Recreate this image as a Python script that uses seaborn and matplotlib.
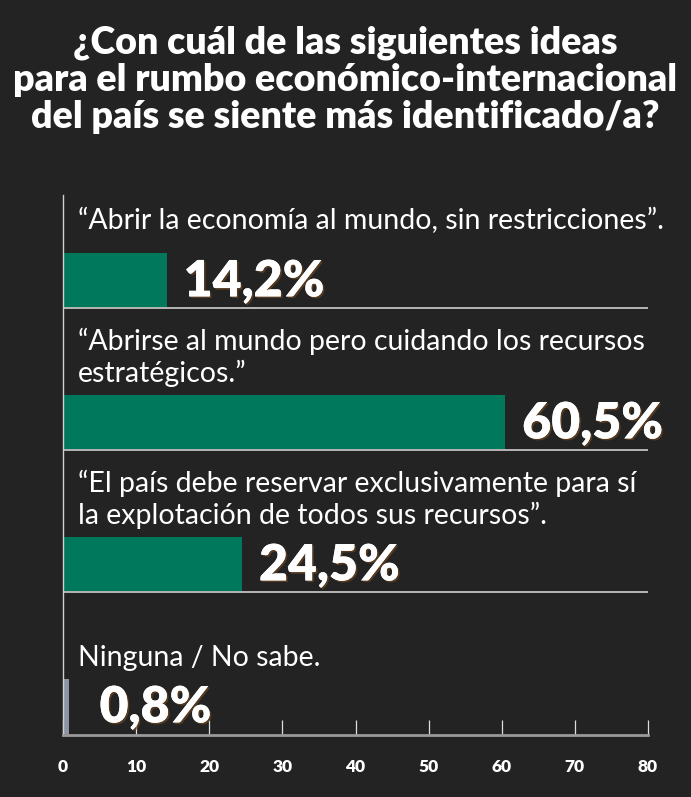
import matplotlib
matplotlib.use("Agg")
import matplotlib.pyplot as plt
import seaborn as sns
import pandas as pd
from matplotlib import patheffects as pe

# ---- data ----
categories = [
    "“Abrir la economía al mundo, sin restricciones”.",
    "“Abrirse al mundo pero cuidando los recursos\nestratégicos.”",
    "“El país debe reservar exclusivamente para sí\nla explotación de todos sus recursos”.",
    "Ninguna / No sabe.",
]
values = [14.2, 60.5, 24.5, 0.8]
value_labels = ["14,2%", "60,5%", "24,5%", "0,8%"]
bar_colors = ["#00785B", "#00785B", "#00785B", "#8C95A6"]
xticks = [0, 10, 20, 30, 40, 50, 60, 70, 80]
title = ("¿Con cuál de las siguientes ideas\n"
         "para el rumbo económico-internacional\n"
         "del país se siente más identificado/a?")

# ---- style ----
BG = "#232323"
sns.set_theme(style="dark")
plt.rcParams["font.family"] = ["Lato", "DejaVu Sans"]

W, H = 691, 797
fig = plt.figure(figsize=(W / 100, H / 100), dpi=100, facecolor=BG)
ax = fig.add_axes([63 / W, 1 - 735 / H, (648 - 63) / W, (735 - 195) / H])
ax.set_facecolor(BG)

df = pd.DataFrame({"cat": categories, "val": values})
BAR_H = 0.387
sns.barplot(data=df, x="val", y="cat", hue="cat", palette=bar_colors,
            orient="h", width=BAR_H, legend=False, ax=ax, saturation=1,
            linewidth=0, edgecolor="none")

PX = 1 / 142.0  # data units per pixel vertically
ax.set_ylim(3.2007, -0.602)
ax.set_xlim(0, 80)
ax.set_xticks(xticks)
ax.set_xticklabels([str(t) for t in xticks], color="white",
                   fontsize=12.5, fontweight="heavy")
ax.set_yticks([])
ax.set_xlabel("")
ax.set_ylabel("")
ax.grid(False)

for s in ["top", "right"]:
    ax.spines[s].set_visible(False)
ax.spines["left"].set_color("#cfcfcf")
ax.spines["left"].set_linewidth(1.0)
ax.spines["bottom"].set_color("#9a9a9a")
ax.spines["bottom"].set_linewidth(2.0)
ax.tick_params(axis="x", direction="in", length=11, width=0.9,
               color="#dddddd", pad=17, bottom=True)

# separators under bars, labels and values
label_gap_px = [19, 8, 8, 8]
for i, (cat, v, lab) in enumerate(zip(categories, values, value_labels)):
    if i < len(categories) - 1:
        ax.hlines(i + BAR_H / 2, 0, 80, color="#b5b5b5", lw=1.4, zorder=1)
    ax.text(2.0, i - BAR_H / 2 - label_gap_px[i] * PX, cat,
            ha="left", va="bottom", color="white", fontsize=20.5,
            linespacing=1.2)
    t = ax.text(max(v + 2.3, 5.0), i + 0.01, lab, ha="left", va="center",
                color="white", fontsize=36, fontweight="heavy")
    t.set_path_effects([pe.withSimplePatchShadow(offset=(1.2, -1.2),
                                                 shadow_rgbFace="#6b4520",
                                                 alpha=0.7),
                        pe.Normal()])

fig.text(0.5, 1 - 80 / H, title, ha="center", va="center", color="white",
         fontsize=27, fontweight="heavy", linespacing=1.1)

fig.savefig("out.png", dpi=100, facecolor=BG)
